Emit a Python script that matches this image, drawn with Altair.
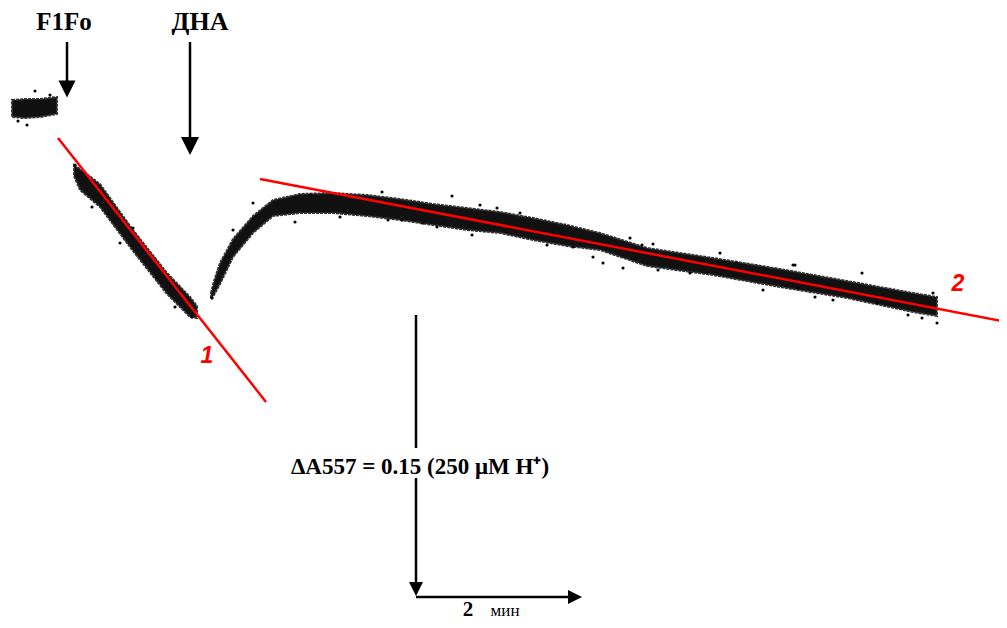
import altair as alt
import pandas as pd

base_x = [12, 25, 40, 57]
base_hi = [100, 99, 99, 97]
base_lo = [117, 118, 117, 114]

desc_x = [74, 80, 100, 133, 167, 190, 197]
desc_hi = [165, 169, 184, 230, 273, 297, 306]
desc_lo = [176, 190, 207, 251, 294, 317, 318]

rec_x = [211, 214, 220, 233, 253, 273, 300, 333, 367, 400, 433, 467, 500, 533, 567, 600, 647, 713, 780, 847, 913, 937]
rec_hi = [293, 281, 263, 239, 216, 200, 194, 193, 195, 199, 204, 208, 212, 218, 225, 233, 248, 258, 269, 281, 293, 297]
rec_lo = [299, 295, 284, 257, 233, 216, 213, 213, 216, 220, 225, 230, 233, 240, 246, 250, 266, 275, 287, 298, 312, 316]

# stray points around the core
out_x = [35, 27, 18, 50, 295, 212, 253, 310, 340, 382, 388, 233, 340,
         452, 472, 402, 437, 497, 520, 547, 593, 573, 423, 480,
         630, 642, 653, 720, 763, 690, 737, 603, 623, 793, 798, 658,
         862, 815, 937, 795, 908, 933, 922, 833, 877,
         133, 75, 92, 120, 192, 175, 157]
out_y = [91, 125, 121, 95, 222, 298, 203, 195, 195, 192, 220, 230, 217,
         196, 235, 220, 227, 208, 213, 245, 257, 247, 223, 205,
         238, 245, 244, 253, 290, 273, 263, 263, 268, 265, 288, 270,
         273, 297, 323, 265, 315, 293, 318, 300, 303,
         228, 165, 207, 243, 317, 307, 277]

# fitted lines
fit_names = ["1", "2"]
fit_x1 = [58, 260]
fit_y1 = [138, 179]
fit_x2 = [266, 1007]
fit_y2 = [402, 322]
fit_lab_x = [207, 958]
fit_lab_y = [356, 284]

# annotation arrows (shafts)
shaft_x1 = [67, 190, 416, 416, 416]
shaft_y1 = [42, 42, 315, 478, 597]
shaft_x2 = [67, 190, 416, 416, 572]
shaft_y2 = [84, 140, 448, 588, 597]

head_down_x = [67, 190, 416]
head_down_y = [89, 146, 589]
head_down_w = [17, 18, 14]
head_right_x = [575]
head_right_y = [597]

X_DOM = [8, 999]
Y_DOM = [8, 620]


def xe(f):
    return alt.X(f, type="quantitative", scale=alt.Scale(domain=X_DOM, nice=False, zero=False), axis=None)


def ye(f):
    return alt.Y(f, type="quantitative", scale=alt.Scale(domain=Y_DOM, nice=False, zero=False, reverse=True), axis=None)


rows = []
for seg, xs, hs, ls in [("a", base_x, base_hi, base_lo), ("b", desc_x, desc_hi, desc_lo), ("c", rec_x, rec_hi, rec_lo)]:
    for x, h, l in zip(xs, hs, ls):
        rows.append({"seg": seg, "x": x, "hi": h, "lo": l})
band_df = pd.DataFrame(rows)

band = alt.Chart(band_df).mark_area(color="#111111", stroke="#333333", strokeWidth=2, strokeDash=[3, 1]).encode(
    x=xe("x"), y=ye("hi"), y2="lo", detail="seg:N"
)

out = alt.Chart(pd.DataFrame({"x": out_x, "y": out_y})).mark_circle(color="black", size=10, opacity=1).encode(
    x=xe("x"), y=ye("y")
)

fit_df = pd.DataFrame({"n": fit_names, "x1": fit_x1, "y1": fit_y1, "x2": fit_x2, "y2": fit_y2,
                       "lx": fit_lab_x, "ly": fit_lab_y})
fits = alt.Chart(fit_df).mark_rule(color="#ff0000", strokeWidth=2.5).encode(
    x=xe("x1"), y=ye("y1"), x2="x2", y2="y2"
)
fit_labels = alt.Chart(fit_df).mark_text(color="#ff0000", font="Liberation Sans", fontWeight="bold",
                                         fontStyle="italic", fontSize=23, baseline="middle", align="center").encode(
    x=xe("lx"), y=ye("ly"), text="n"
)

shafts = alt.Chart(pd.DataFrame({"x1": shaft_x1, "y1": shaft_y1, "x2": shaft_x2, "y2": shaft_y2})).mark_rule(
    color="black", strokeWidth=2.5).encode(x=xe("x1"), y=ye("y1"), x2="x2", y2="y2")

heads_down = alt.Chart(pd.DataFrame({"x": head_down_x, "y": head_down_y, "w": head_down_w})).mark_point(
    shape="M-1,-1L1,-1L0,1Z", filled=True, color="black", opacity=1).encode(
    x=xe("x"), y=ye("y"),
    size=alt.Size("w:Q", scale=alt.Scale(type="pow", exponent=2, domain=[0, 20], range=[0, 400]), legend=None)
)
heads_right = alt.Chart(pd.DataFrame({"x": head_right_x, "y": head_right_y})).mark_point(
    shape="M-1,-1L1,0L-1,1Z", filled=True, color="black", opacity=1, size=196).encode(
    x=xe("x"), y=ye("y")
)


def serif_text(t, x, y, fs, weight="bold", baseline="middle"):
    return alt.Chart(pd.DataFrame({"t": [t], "x": [x], "y": [y]})).mark_text(
        font="Liberation Serif", fontWeight=weight, fontSize=fs, color="black",
        baseline=baseline, align="center").encode(x=xe("x"), y=ye("y"), text="t")


t_f1fo = serif_text("F1Fo", 64, 30, 25, baseline="alphabetic")
t_dna = serif_text("ДНА", 200, 30, 26, baseline="alphabetic")
t_da = serif_text("ΔA557 = 0.15 (250 μM H⁺)", 420, 467, 23)
t_two = serif_text("2", 468, 616, 21, baseline="alphabetic")
t_min = serif_text("мин", 505, 616, 17, weight="normal", baseline="alphabetic")

chart = alt.layer(band, out, fits, fit_labels, shafts, heads_down, heads_right,
                  t_f1fo, t_dna, t_da, t_two, t_min).properties(
    width=991, height=612, autosize=alt.AutoSizeParams(type="none"), padding=0, background="white"
).configure_view(stroke=None)

chart.save("out.html", embed_options={"renderer": "svg", "actions": False})
